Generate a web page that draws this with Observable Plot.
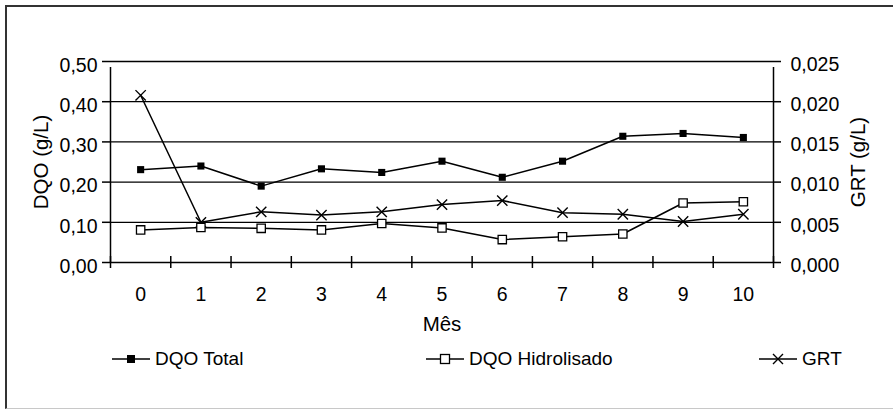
<!DOCTYPE html>
<html><head><meta charset="utf-8">
<script src="https://cdn.jsdelivr.net/npm/d3@7"></script>
<script src="https://cdn.jsdelivr.net/npm/@observablehq/plot@0.6"></script>
<style>
body{margin:0;background:#fff;font-family:"Liberation Sans",Arial,sans-serif;color:#000;}
#wrap{position:relative;width:893px;height:410px;overflow:hidden;background:#fff;}
#frame{position:absolute;left:5px;top:5px;width:900px;height:404px;border-left:2px solid #333;border-top:2px solid #333;border-bottom:1px solid #c8c8c8;box-sizing:border-box;}
#chart{position:absolute;left:0;top:0;}
#legend{position:absolute;left:0;top:347px;width:893px;height:24px;}
.item{position:absolute;top:0;display:flex;align-items:center;height:24px;font-size:19px;white-space:nowrap;}
.item svg{margin-right:5px;}
</style></head><body>
<div id="wrap"><div id="frame"></div><div id="chart"></div><div id="legend"></div></div>
<script>
const months = [0,1,2,3,4,5,6,7,8,9,10];
const dqoTotal = [0.231,0.240,0.190,0.233,0.224,0.252,0.212,0.252,0.314,0.321,0.311];
const dqoHidrolisado = [0.081,0.087,0.085,0.081,0.097,0.086,0.057,0.064,0.071,0.148,0.151];
const grt = [0.0208,0.0050,0.0063,0.0059,0.0063,0.0072,0.0077,0.0062,0.0060,0.0051,0.0060];
const leftTicks = [0,0.1,0.2,0.3,0.4,0.5];
const rightTicks = [0,0.005,0.010,0.015,0.020,0.025];
const seriesNames = ["DQO Total","DQO Hidrolisado","GRT"];
const xTitle = "Mês";
const yTitle = "DQO (g/L)";
const y2Title = "GRT (g/L)";

const k = leftTicks[leftTicks.length-1] / rightTicks[rightTicks.length-1];
const rows = months.map((m,i)=>({month:m, total:dqoTotal[i], hid:dqoHidrolisado[i], grt:grt[i]*k}));
const bounds = months.map(m=>m-0.5).concat([months[months.length-1]+0.5]);
const fmtL = d => d.toFixed(2).replace(".", ",");
const fmtR = d => (d/k).toFixed(3).replace(".", ",");
const xDom = [bounds[0], bounds[bounds.length-1]];
const yDom = [leftTicks[0], leftTicks[leftTicks.length-1]];

const chart = Plot.plot({
  width: 893, height: 340,
  marginLeft: 110, marginRight: 120, marginTop: 61, marginBottom: 78,
  x: {domain: xDom},
  y: {domain: yDom},
  style: {fontFamily: "'Liberation Sans', Arial, sans-serif", fontSize: "19.5px", color: "#000", background: "transparent", overflow: "visible"},
  marks: [
    Plot.ruleY(leftTicks.slice(1), {stroke: "#000", strokeWidth: 1.3}),
    Plot.ruleY([yDom[0]], {stroke: "#000", strokeWidth: 1.5}),
    Plot.ruleX(xDom, {y1: yDom[0], y2: yDom[1], insetBottom: -6, stroke: "#000", strokeWidth: 1.5}),
    Plot.ruleX(bounds, {y1: yDom[0], y2: yDom[0], insetTop: -6, insetBottom: -6, stroke: "#000", strokeWidth: 1.5}),
    Plot.ruleY(leftTicks, {x1: xDom[0], x2: xDom[0], insetLeft: -8, stroke: "#000", strokeWidth: 1.5}),
    Plot.ruleY(leftTicks, {x1: xDom[1], x2: xDom[1], insetRight: -8, stroke: "#000", strokeWidth: 1.5}),
    Plot.axisY(leftTicks, {anchor: "left", tickSize: 0, tickPadding: 13, dy: 4, tickFormat: fmtL, label: null}),
    Plot.axisY(rightTicks.map(t=>t*k), {anchor: "right", tickSize: 0, tickPadding: 17, dy: 3, tickFormat: fmtR, label: null}),
    Plot.axisX(months, {tickSize: 0, tickPadding: 25, tickFormat: d => String(d), label: null}),
    Plot.text([xTitle], {frameAnchor: "bottom", textAnchor: "middle", dy: 68, fontSize: 20.5}),
    Plot.text([yTitle], {frameAnchor: "left", textAnchor: "middle", dx: -69, rotate: -90, fontSize: 20.5}),
    Plot.text([y2Title], {frameAnchor: "right", textAnchor: "middle", dx: 85, rotate: -90, fontSize: 20.5}),
    Plot.line(rows, {x: "month", y: "grt", stroke: "#000", strokeWidth: 1.5}),
    Plot.line(rows, {x: "month", y: "hid", stroke: "#000", strokeWidth: 1.5}),
    Plot.line(rows, {x: "month", y: "total", stroke: "#000", strokeWidth: 1.5}),
    Plot.dot(rows, {x: "month", y: "grt", symbol: "times", r: 4.75, stroke: "#000", strokeWidth: 1.4}),
    Plot.dot(rows, {x: "month", y: "hid", symbol: "square", r: 4.7, fill: "#fff", stroke: "#000", strokeWidth: 1.3}),
    Plot.dot(rows, {x: "month", y: "total", symbol: "square", r: 4, fill: "#000", stroke: "none"})
  ]
});
document.getElementById("chart").appendChild(chart);

const legendLeft = [112, 426, 759];
const markers = [
  '<rect x="15" y="8" width="8" height="8" fill="#000"/>',
  '<rect x="14.5" y="7.5" width="9" height="9" fill="#fff" stroke="#000" stroke-width="1.3"/>',
  '<path d="M14,7L24,17M14,17L24,7" stroke="#000" stroke-width="1.4" fill="none"/>'
];
const legend = document.getElementById("legend");
seriesNames.forEach((name, i) => {
  const div = document.createElement("div");
  div.className = "item";
  div.style.left = legendLeft[i] + "px";
  div.innerHTML = `<svg width="38" height="24"><line x1="0" x2="38" y1="12" y2="12" stroke="#000" stroke-width="1.5"/>${markers[i]}</svg><span>${name}</span>`;
  legend.appendChild(div);
});
</script>
</body></html>
